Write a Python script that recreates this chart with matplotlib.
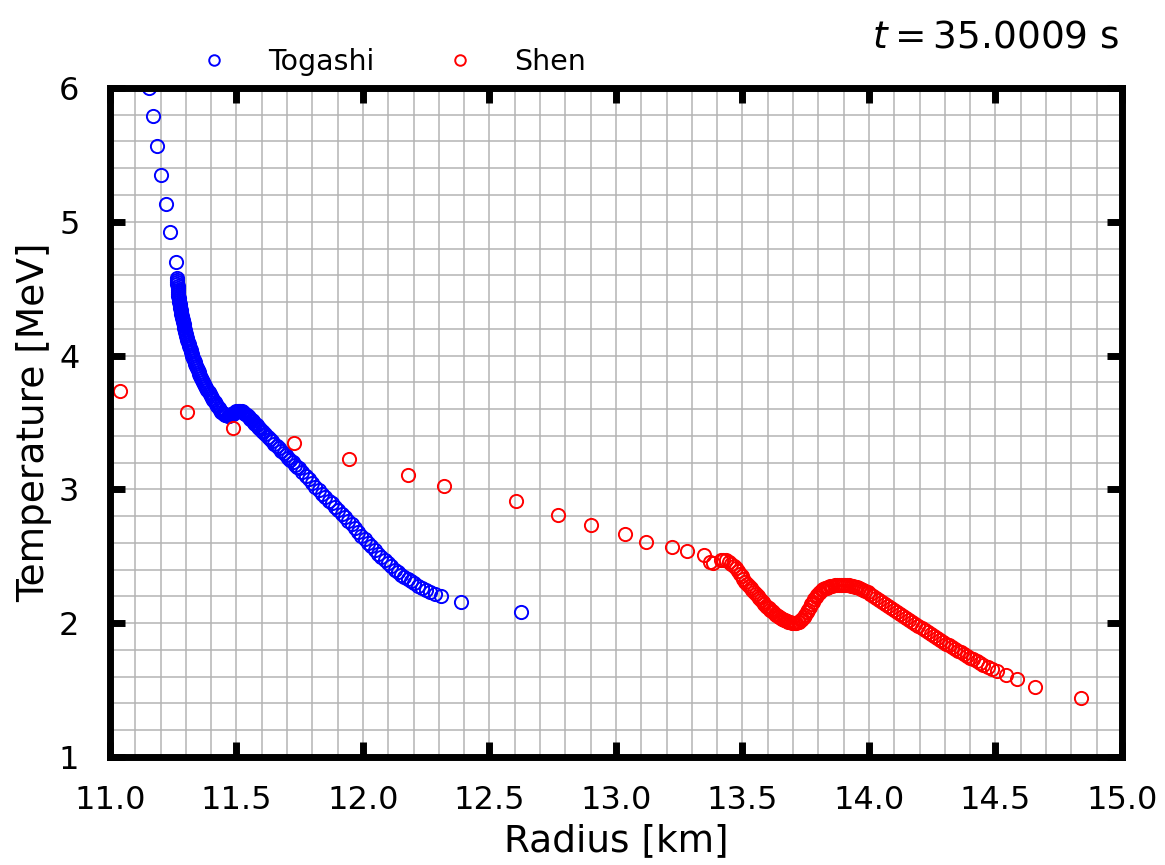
import matplotlib
matplotlib.use("Agg")
import matplotlib.pyplot as plt
from matplotlib.ticker import MultipleLocator, FormatStrFormatter

# ---- data ----
togashi_r = [11.155, 11.170, 11.186, 11.200, 11.220, 11.237, 11.260,
             11.2650, 11.2656, 11.2662, 11.2668, 11.2674, 11.2680, 11.2686, 11.2692, 11.2698,
             11.2704, 11.2710, 11.2724, 11.2738, 11.2752, 11.2766, 11.2780, 11.2794, 11.2808,
             11.2822, 11.2836, 11.2850, 11.2869, 11.2888, 11.2907, 11.2926, 11.2945, 11.2964,
             11.2983, 11.3002, 11.3021, 11.3040, 11.3064, 11.3088, 11.3112, 11.3136, 11.3160,
             11.3184, 11.3208, 11.3232, 11.3256, 11.3280, 11.3312, 11.3344, 11.3376, 11.3408,
             11.3440, 11.3472, 11.3504, 11.3536, 11.3568, 11.3600, 11.3642, 11.3683, 11.3725,
             11.3767, 11.3808, 11.3850, 11.3898, 11.3947, 11.3995, 11.4043, 11.4092, 11.4140,
             11.4193, 11.4245, 11.4298, 11.4350,
             11.440, 11.445, 11.450, 11.455, 11.460, 11.465, 11.470, 11.475, 11.480, 11.485,
             11.490, 11.495, 11.500, 11.505, 11.510, 11.515, 11.520, 11.525, 11.530, 11.535,
             11.540, 11.545, 11.550, 11.555, 11.560, 11.565, 11.570, 11.575, 11.580, 11.585,
             11.590, 11.595, 11.600, 11.605,
             11.614, 11.623, 11.632, 11.641, 11.650, 11.659, 11.668, 11.677, 11.686, 11.695,
             11.704, 11.713, 11.722, 11.731, 11.740,
             11.747, 11.760, 11.773, 11.786, 11.799, 11.812, 11.825, 11.838, 11.851, 11.864,
             11.877, 11.890, 11.903, 11.916, 11.929, 11.942, 11.955, 11.968, 11.981, 11.994,
             12.007, 12.020, 12.033, 12.046, 12.060, 12.073, 12.086, 12.099, 12.112, 12.125,
             12.138, 12.151, 12.164, 12.177, 12.190, 12.203, 12.218, 12.233, 12.248, 12.265,
             12.285, 12.308, 12.387, 12.624]
togashi_t = [6.00, 5.79, 5.57, 5.35, 5.13, 4.92, 4.70,
             4.580, 4.565, 4.550, 4.535, 4.520, 4.505, 4.490, 4.475, 4.460,
             4.445, 4.430, 4.415, 4.400, 4.385, 4.370, 4.355, 4.340, 4.325,
             4.310, 4.295, 4.280, 4.265, 4.250, 4.235, 4.220, 4.205, 4.190,
             4.175, 4.160, 4.145, 4.130, 4.115, 4.100, 4.085, 4.070, 4.055,
             4.040, 4.025, 4.010, 3.995, 3.980, 3.965, 3.950, 3.935, 3.920,
             3.905, 3.890, 3.875, 3.860, 3.845, 3.830, 3.815, 3.800, 3.785,
             3.770, 3.755, 3.740, 3.725, 3.710, 3.695, 3.680, 3.665, 3.650,
             3.635, 3.620, 3.605, 3.590,
             3.580, 3.572, 3.564, 3.558, 3.553, 3.551, 3.552, 3.555, 3.560, 3.566,
             3.572, 3.578, 3.583, 3.586, 3.587, 3.586, 3.583, 3.578, 3.572, 3.565,
             3.557, 3.548, 3.538, 3.528, 3.518, 3.508, 3.498, 3.488, 3.478, 3.468,
             3.458, 3.448, 3.438, 3.428,
             3.411, 3.393, 3.376, 3.358, 3.341, 3.324, 3.306, 3.289, 3.271, 3.254,
             3.237, 3.219, 3.202, 3.184, 3.167,
             3.156, 3.129, 3.102, 3.075, 3.048, 3.021, 2.994, 2.967, 2.940, 2.913,
             2.895, 2.870, 2.844, 2.818, 2.792, 2.766, 2.740, 2.714, 2.678, 2.652,
             2.626, 2.600, 2.574, 2.548, 2.520, 2.494, 2.470, 2.447, 2.424, 2.400,
             2.380, 2.360, 2.345, 2.330, 2.315, 2.300, 2.280, 2.260, 2.245, 2.230,
             2.215, 2.200, 2.155, 2.080]

shen_r = [11.040, 11.304, 11.487, 11.727, 11.945, 12.178, 12.320, 12.605, 12.770, 12.900,
          13.035, 13.120, 13.220, 13.280,
          13.350, 13.370, 13.385, 13.415, 13.425, 13.435, 13.445, 13.455, 13.465, 13.475,
          13.483, 13.490, 13.497, 13.504, 13.511, 13.518, 13.525, 13.532, 13.539, 13.546,
          13.553, 13.560, 13.567, 13.574, 13.580, 13.586, 13.592, 13.598, 13.604, 13.610,
          13.616, 13.622, 13.628, 13.634, 13.640, 13.646, 13.652, 13.658, 13.664, 13.670,
          13.676, 13.682, 13.688, 13.694, 13.700, 13.706, 13.712, 13.718, 13.724, 13.730,
          13.736, 13.742, 13.748, 13.754, 13.760, 13.766, 13.772, 13.778, 13.784, 13.790,
          13.796, 13.802, 13.808, 13.814, 13.820, 13.826, 13.833, 13.840, 13.848, 13.856,
          13.864, 13.872, 13.880, 13.888, 13.896, 13.904, 13.912, 13.920, 13.928, 13.936,
          13.944, 13.952, 13.960, 13.968, 13.976, 13.986, 13.996, 14.006, 14.016, 14.028,
          14.040, 14.052, 14.064, 14.076, 14.088, 14.100, 14.112, 14.124, 14.136, 14.148,
          14.160, 14.172, 14.184, 14.196, 14.208, 14.220, 14.232, 14.244, 14.256, 14.268,
          14.280, 14.292, 14.304, 14.316, 14.328, 14.340, 14.352, 14.364, 14.376, 14.388,
          14.400, 14.413, 14.426, 14.439, 14.452, 14.470, 14.488, 14.506, 14.540, 14.585,
          14.655, 14.840]
shen_t = [3.735, 3.58, 3.46, 3.35, 3.23, 3.11, 3.025, 2.91, 2.81, 2.73,
          2.67, 2.61, 2.57, 2.54,
          2.51, 2.46, 2.45, 2.475, 2.475, 2.47, 2.46, 2.445, 2.43, 2.41,
          2.39, 2.37, 2.35, 2.33, 2.31, 2.29, 2.275, 2.26, 2.245, 2.23,
          2.215, 2.20, 2.185, 2.17, 2.155, 2.14, 2.13, 2.12, 2.11, 2.10,
          2.09, 2.08, 2.07, 2.06, 2.05, 2.045, 2.04, 2.03, 2.025, 2.02,
          2.015, 2.01, 2.005, 2.00, 2.00, 2.00, 2.00, 2.005, 2.01, 2.02,
          2.03, 2.045, 2.06, 2.08, 2.10, 2.12, 2.14, 2.16, 2.18, 2.195,
          2.21, 2.225, 2.235, 2.245, 2.255, 2.26, 2.265, 2.27, 2.275, 2.28,
          2.283, 2.285, 2.287, 2.288, 2.288, 2.287, 2.285, 2.283, 2.28, 2.276,
          2.272, 2.267, 2.262, 2.256, 2.25, 2.24, 2.23, 2.22, 2.205, 2.19,
          2.175, 2.16, 2.145, 2.13, 2.115, 2.10, 2.085, 2.07, 2.055, 2.04,
          2.025, 2.01, 1.995, 1.98, 1.965, 1.95, 1.935, 1.92, 1.905, 1.89,
          1.875, 1.86, 1.847, 1.834, 1.821, 1.808, 1.795, 1.782, 1.769, 1.756,
          1.743, 1.73, 1.717, 1.704, 1.691, 1.675, 1.66, 1.64, 1.61, 1.58,
          1.52, 1.44]

series_labels = ["Togashi", "Shen"]
series_colors = ["blue", "red"]
time_label = r"$t = 35.0009$ s"

# ---- figure ----
fig = plt.figure(figsize=(11.65, 8.65), dpi=100)
ax = fig.add_axes([0.0944, 0.1249, 0.8686, 0.7734])

for r, t, lab, col in zip([togashi_r, shen_r], [togashi_t, shen_t], series_labels, series_colors):
    ax.plot(r, t, linestyle="none", marker="o", markersize=9.5, markerfacecolor="none",
            markeredgecolor=col, markeredgewidth=1.4, label=lab)

ax.set_xlim(11.0, 15.0)
ax.set_ylim(1, 6)
ax.xaxis.set_major_locator(MultipleLocator(0.5))
ax.xaxis.set_minor_locator(MultipleLocator(0.1))
ax.yaxis.set_major_locator(MultipleLocator(1))
ax.yaxis.set_minor_locator(MultipleLocator(0.2))
ax.xaxis.set_major_formatter(FormatStrFormatter("%.1f"))

ax.grid(which="both", color="#b4b4b4", linewidth=1.1)
ax.set_axisbelow(True)
for s in ax.spines.values():
    s.set_linewidth(5)
ax.tick_params(which="major", direction="in", length=11, width=5, top=True, right=True,
               labelsize=23)
ax.tick_params(axis="x", which="major", pad=20)
ax.tick_params(axis="y", which="major", pad=22)
ax.tick_params(which="minor", direction="in", length=0, width=0)

ax.set_xlabel("Radius [km]", fontsize=27, labelpad=5)
ax.set_ylabel("Temperature [MeV]", fontsize=27, labelpad=5)

fig.text(0.961, 0.978, time_label, ha="right", va="top", fontsize=27)

ax.legend(loc="lower left", bbox_to_anchor=(0.075, 1.018), ncol=2, frameon=False,
          fontsize=20.5, columnspacing=2.0, handletextpad=0.9, borderaxespad=0.0,
          borderpad=0.0, markerscale=0.8)

fig.savefig("out.png", dpi=100)
